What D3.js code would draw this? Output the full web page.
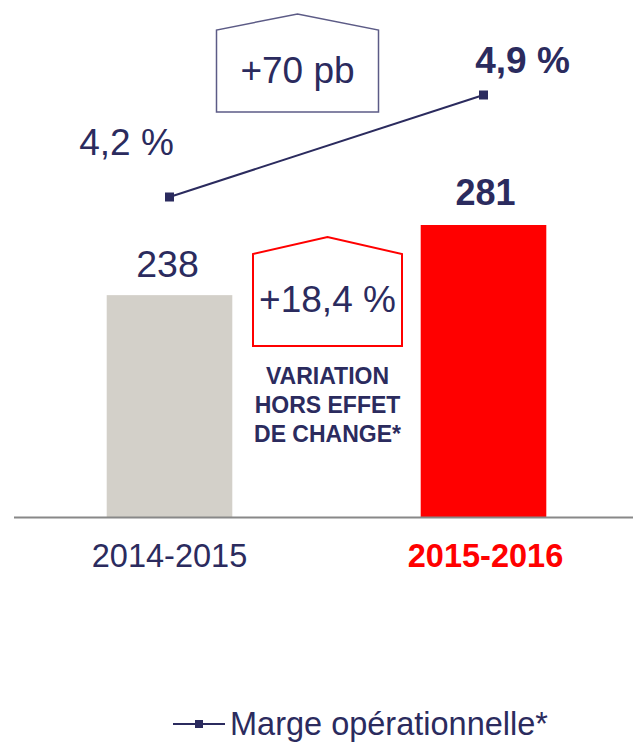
<!DOCTYPE html>
<html lang="fr">
<head>
<meta charset="UTF-8" />
<title>Chiffre d'affaires et marge</title>
<style>
  * { margin: 0; padding: 0; }
  body { background: #fff; }
  svg text { font-family: "Liberation Sans", Arial, sans-serif; }
</style>
</head>
<body>
<script src="https://d3js.org/d3.v7.min.js"></script>
<script>
// données
const categories = ["2014-2015", "2015-2016"];
const revenue = [238, 281];
const revenueLabels = ["238", "281"];
const marginPct = [4.2, 4.9];
const marginLabels = ["4,2 %", "4,9 %"];
const marginDelta = "+70 pb";
const revenueDelta = "+18,4 %";
const noteLines = ["VARIATION", "HORS EFFET", "DE CHANGE*"];
const legendLabel = "Marge opérationnelle*";

const navy = "#2b2b5e";
const width = 633, height = 742;
const baseY = 517;

const svg = d3.select("body").append("svg")
  .attr("width", width)
  .attr("height", height);

// échelles
const x = d3.scaleBand()
  .domain(categories)
  .range([12.5, 640.5])
  .paddingInner(0.6)
  .paddingOuter(0.3);

const y = d3.scaleLinear().domain([102, 281]).range([baseY, 225]);
const yLine = d3.scaleLinear().domain([4.2, 4.9]).range([197, 95]);

const cx = (c) => x(c) + x.bandwidth() / 2;

// barres
svg.append("g")
  .selectAll("rect")
  .data(categories)
  .join("rect")
  .attr("x", (d) => x(d))
  .attr("y", (d, i) => y(revenue[i]))
  .attr("width", x.bandwidth())
  .attr("height", (d, i) => baseY - y(revenue[i]))
  .attr("fill", (d, i) => (i === 0 ? "#d3d0c9" : "#ff0000"));

// axe
svg.append("line")
  .attr("x1", 14).attr("x2", width)
  .attr("y1", baseY + 0.5).attr("y2", baseY + 0.5)
  .attr("stroke", "#888").attr("stroke-width", 2);

// étiquettes des barres
svg.append("g")
  .selectAll("text")
  .data(categories)
  .join("text")
  .attr("x", (d, i) => cx(d) - 2 + i * 4)
  .attr("y", (d, i) => y(revenue[i]) - 18 - i * 2)
  .attr("text-anchor", "middle")
  .attr("font-size", (d, i) => (i === 1 ? 36 : 37.5))
  .attr("font-weight", (d, i) => (i === 1 ? "bold" : "normal"))
  .attr("fill", navy)
  .text((d, i) => revenueLabels[i]);

// catégories
svg.append("g")
  .selectAll("text")
  .data(categories)
  .join("text")
  .attr("x", (d, i) => cx(d) + i * 2)
  .attr("y", 567)
  .attr("text-anchor", "middle")
  .attr("font-size", 32.5)
  .attr("font-weight", (d, i) => (i === 1 ? "bold" : "normal"))
  .attr("fill", (d, i) => (i === 1 ? "#ff0000" : navy))
  .text((d) => d);

// ligne de marge
const line = d3.line()
  .x((d, i) => cx(categories[i]))
  .y((d) => yLine(d));

svg.append("path")
  .datum(marginPct)
  .attr("d", line)
  .attr("fill", "none")
  .attr("stroke", navy)
  .attr("stroke-width", 2);

svg.append("g")
  .selectAll("rect")
  .data(marginPct)
  .join("rect")
  .attr("x", (d, i) => cx(categories[i]) - 4.5)
  .attr("y", (d) => yLine(d) - 4.5)
  .attr("width", 9)
  .attr("height", 9)
  .attr("fill", navy);

const lineLabelOffset = [[-43, -42], [39, -22]];
svg.append("g")
  .selectAll("text")
  .data(marginPct)
  .join("text")
  .attr("x", (d, i) => cx(categories[i]) + lineLabelOffset[i][0])
  .attr("y", (d, i) => yLine(d) + lineLabelOffset[i][1])
  .attr("text-anchor", "middle")
  .attr("font-size", 37)
  .attr("font-weight", (d, i) => (i === 1 ? "bold" : "normal"))
  .attr("fill", navy)
  .text((d, i) => marginLabels[i]);

// encadrés en forme de maison
function house(cxh, top, shoulder, bottom, half, stroke, sw, label, textY) {
  const g = svg.append("g");
  g.append("path")
    .attr("d", d3.line()([
      [cxh - half, bottom], [cxh - half, shoulder], [cxh, top],
      [cxh + half, shoulder], [cxh + half, bottom]
    ]) + "Z")
    .attr("fill", "none")
    .attr("stroke", stroke)
    .attr("stroke-width", sw);
  g.append("text")
    .attr("x", cxh)
    .attr("y", textY)
    .attr("text-anchor", "middle")
    .attr("font-size", 37)
    .attr("fill", navy)
    .text(label);
}

const mid = (cx(categories[0]) + cx(categories[1])) / 2;
house(mid - 29, 14, 30, 112, 81, "#5c5b86", 1.5, marginDelta, 83);
house(mid + 1, 237, 254, 346, 74.5, "#ff0000", 2, revenueDelta, 312);

// note
svg.append("g")
  .selectAll("text")
  .data(noteLines)
  .join("text")
  .attr("x", mid + 1)
  .attr("y", (d, i) => 384 + i * 29)
  .attr("text-anchor", "middle")
  .attr("font-size", 23)
  .attr("font-weight", "bold")
  .attr("fill", navy)
  .text((d) => d);

// légende
const lg = svg.append("g");
lg.append("line")
  .attr("x1", 173).attr("x2", 225)
  .attr("y1", 724).attr("y2", 724)
  .attr("stroke", navy).attr("stroke-width", 2);
lg.append("rect")
  .attr("x", 195).attr("y", 720)
  .attr("width", 8).attr("height", 8)
  .attr("fill", navy);
lg.append("text")
  .attr("x", 230).attr("y", 735)
  .attr("font-size", 32.5)
  .attr("fill", navy)
  .text(legendLabel);
</script>
</body>
</html>
